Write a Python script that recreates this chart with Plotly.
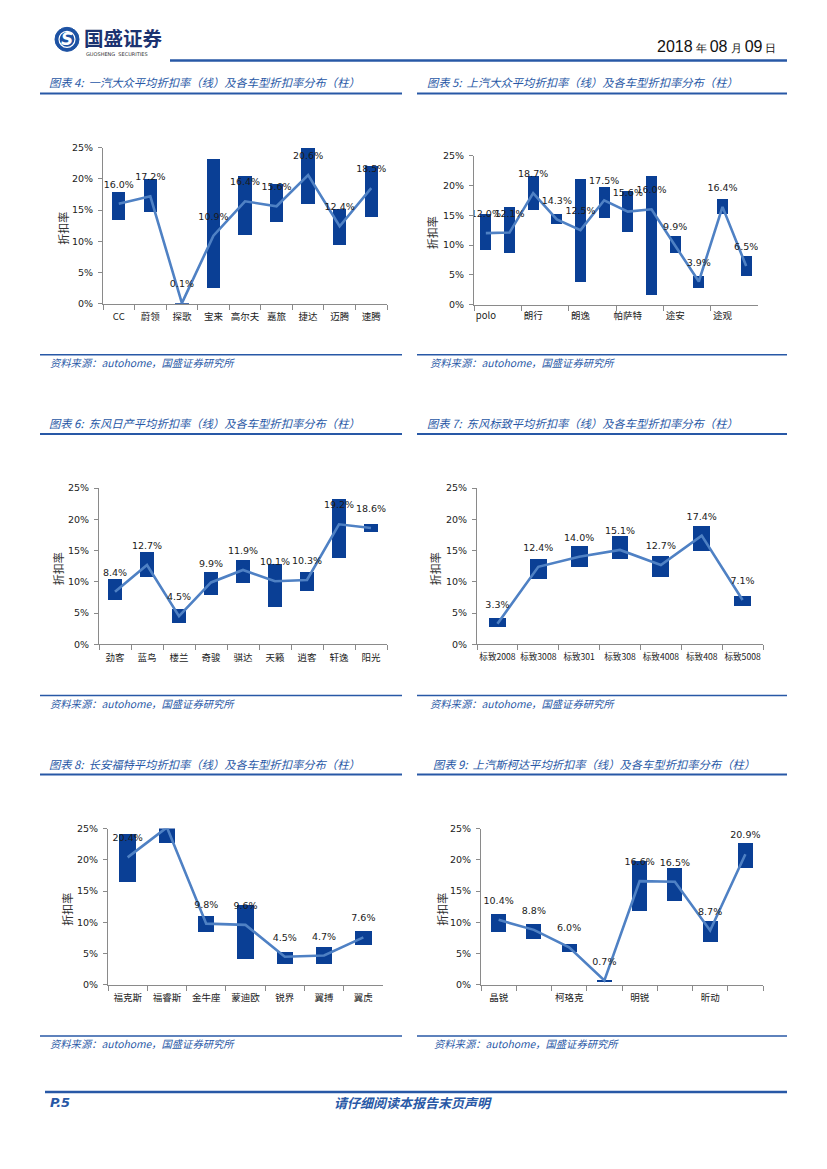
import plotly.graph_objects as go

W, H = 827, 1169

# ---------------- data ----------------
c4_cats = ["CC", "蔚领", "探歌", "宝来", "高尔夫", "嘉旅", "捷达", "迈腾", "速腾"]
c4_low = [13.4, 14.7, 0.0, 2.6, 11.0, 13.1, 15.9, 9.4, 13.9]
c4_high = [17.9, 19.9, 0.2, 23.2, 20.4, 19.1, 25.0, 15.1, 22.0]
c4_avg = [16.0, 17.2, 0.1, 10.9, 16.4, 15.6, 20.6, 12.4, 18.5]

c5_cats = ["polo", "凌渡", "朗行", "朗境", "朗逸", "辉昂", "帕萨特", "桑塔纳", "途安", "途昂", "途观", "途岳"]
c5_low = [9.2, 8.7, 15.9, 13.6, 3.8, 14.5, 12.2, 1.7, 8.7, 2.8, 15.2, 4.9]
c5_high = [15.2, 16.4, 21.5, 15.2, 21.1, 19.7, 19.0, 21.6, 11.6, 4.9, 17.7, 8.1]
c5_avg = [12.0, 12.1, 18.7, 14.3, 12.5, 17.5, 15.6, 16.0, 9.9, 3.9, 16.4, 6.5]

c6_cats = ["劲客", "蓝鸟", "楼兰", "奇骏", "骐达", "天籁", "逍客", "轩逸", "阳光"]
c6_low = [7.1, 10.7, 3.4, 7.9, 9.8, 5.9, 8.6, 13.8, 17.9]
c6_high = [10.4, 14.7, 5.6, 11.5, 13.5, 12.8, 11.5, 23.3, 19.3]
c6_avg = [8.4, 12.7, 4.5, 9.9, 11.9, 10.1, 10.3, 19.2, 18.6]

c7_cats = ["标致2008", "标致3008", "标致301", "标致308", "标致4008", "标致408", "标致5008"]
c7_low = [2.8, 10.5, 12.4, 13.6, 10.8, 14.9, 6.2]
c7_high = [4.2, 13.7, 15.7, 17.3, 14.2, 18.9, 7.8]
c7_avg = [3.3, 12.4, 14.0, 15.1, 12.7, 17.4, 7.1]

c8_cats = ["福克斯", "福睿斯", "金牛座", "蒙迪欧", "锐界", "翼搏", "翼虎"]
c8_low = [16.4, 22.7, 8.4, 4.1, 3.4, 3.3, 6.4]
c8_high = [24.1, 25.5, 11.1, 12.8, 5.3, 6.1, 8.7]
c8_avg = [20.4, 25.2, 9.8, 9.6, 4.5, 4.7, 7.6]

c9_cats = ["晶锐", "昕锐", "柯珞克", "柯迪亚克", "明锐", "速派", "昕动", "柯米克"]
c9_low = [8.4, 7.4, 5.3, 0.5, 11.9, 13.4, 6.9, 18.7]
c9_high = [11.4, 9.7, 6.6, 0.8, 19.8, 18.7, 10.3, 22.7]
c9_avg = [10.4, 8.8, 6.0, 0.7, 16.6, 16.5, 8.7, 20.9]

y_ticks = [0, 5, 10, 15, 20, 25]

titles = [
    "图表 4:  一汽大众平均折扣率（线）及各车型折扣率分布（柱）",
    "图表 5:  上汽大众平均折扣率（线）及各车型折扣率分布（柱）",
    "图表 6:  东风日产平均折扣率（线）及各车型折扣率分布（柱）",
    "图表 7:  东风标致平均折扣率（线）及各车型折扣率分布（柱）",
    "图表 8:  长安福特平均折扣率（线）及各车型折扣率分布（柱）",
    "图表 9:  上汽斯柯达平均折扣率（线）及各车型折扣率分布（柱）",
]
source_text = "资料来源：autohome，国盛证券研究所"
axis_title = "折扣率"

# ---------------- styling / layout ----------------
BAR = "#0a3f95"
LINE = "#4f81c4"
AXIS = "#8a8a8a"
BLUE = "#2858a6"
CJK = "Noto Sans CJK SC"
NUM = "DejaVu Sans"

# small vertical calibration of the page (px in picture -> px in figure)
Y_OFF, Y_SCALE = 6.7, 0.989


def yc(y):
    return (y - Y_OFF) / Y_SCALE


def xd(a, b):
    return [a / W, b / W]


def yd(top, bottom):
    return [1 - yc(bottom) / H, 1 - yc(top) / H]


def px(x):
    return x / W


def py(y):
    return 1 - yc(y) / H


charts = [
    # cats, low, high, avg, x-domain px, y-domain px, bar width, label step, tick step, ytitle x, tick font
    (c4_cats, c4_low, c4_high, c4_avg, (103, 387), (148, 304), 0.42, 1, 1, 63, 9.5),
    (c5_cats, c5_low, c5_high, c5_avg, (474, 758), (156, 305), 0.46, 2, 2, 432, 9.5),
    (c6_cats, c6_low, c6_high, c6_avg, (99, 387), (488, 644), 0.45, 1, 1, 58, 9.5),
    (c7_cats, c7_low, c7_high, c7_avg, (477, 763), (488, 644), 0.41, 1, 1, 435, 8.6),
    (c8_cats, c8_low, c8_high, c8_avg, (108, 383), (828, 984), 0.42, 1, 1, 67, 9.5),
    (c9_cats, c9_low, c9_high, c9_avg, (481, 763), (828, 984), 0.43, 2, 1, 442, 9.5),
]

fig = go.Figure()
layout_axes = {}
annotations = []

for i, (cats, low, high, avg, xdom, ydom, bw, lstep, tstep, ytx, tfs) in enumerate(charts):
    k = i + 1
    xa = "x" if k == 1 else f"x{k}"
    ya = "y" if k == 1 else f"y{k}"
    fig.add_trace(go.Bar(
        x=cats, y=[h - l for h, l in zip(high, low)], base=low,
        marker=dict(color=BAR, line=dict(width=0)), width=bw,
        xaxis=xa, yaxis=ya, hoverinfo="skip",
    ))
    fig.add_trace(go.Scatter(
        x=cats, y=avg, mode="lines+markers+text",
        text=[f"{v:.1f}%" for v in avg], textposition="top center",
        textfont=dict(family=NUM, size=9.5, color="#1a1a1a"),
        marker=dict(size=20, color="rgba(0,0,0,0)"),
        line=dict(color=LINE, width=2.6),
        cliponaxis=True, xaxis=xa, yaxis=ya, hoverinfo="skip",
    ))
    xkey = "xaxis" if k == 1 else f"xaxis{k}"
    ykey = "yaxis" if k == 1 else f"yaxis{k}"
    xcfg = dict(
        domain=xd(*xdom), anchor=ya, type="category",
        range=[-0.5, len(cats) - 0.5],
        showline=True, linecolor=AXIS, linewidth=1,
        ticks="outside", ticklen=5, tickcolor=AXIS, tickwidth=1,
        tickson="boundaries", showgrid=False, zeroline=False,
        tickangle=0, ticklabelstandoff=4,
        tickfont=dict(family=CJK, size=tfs, color="#222"),
        fixedrange=True,
    )
    if lstep == 2 and tstep == 2:
        xcfg.update(tickmode="linear", tick0=0, dtick=2, ticklabelstandoff=2)
    elif lstep == 2:
        xcfg.update(tickmode="array", tickvals=cats,
                    ticktext=[c if j % 2 == 0 else "" for j, c in enumerate(cats)])
    ycfg = dict(
        domain=yd(*ydom), anchor=xa, range=[0, 25],
        tickmode="array", tickvals=y_ticks, ticktext=[f"{t}%" for t in y_ticks],
        showline=True, linecolor=AXIS, linewidth=1,
        ticks="outside", ticklen=4, tickcolor=AXIS,
        showgrid=False, zeroline=False, ticklabelstandoff=3,
        tickfont=dict(family=NUM, size=9.5, color="#222"),
        fixedrange=True,
    )
    layout_axes[xkey] = xcfg
    layout_axes[ykey] = ycfg
    annotations.append(dict(
        x=px(ytx), y=py((ydom[0] + ydom[1]) / 2 + 3), xref="paper", yref="paper",
        text=axis_title, textangle=-90, showarrow=False,
        font=dict(family=CJK, size=11, color="#333"),
        xanchor="center", yanchor="middle",
    ))

# titles & sources
title_pos = [(47, 83), (425, 83), (47, 423), (425, 423), (47, 763), (431, 763)]
src_pos = [(48, 363), (428, 363), (48, 703), (428, 703), (48, 1043), (432, 1043)]
for t, (tx, ty) in zip(titles, title_pos):
    annotations.append(dict(
        x=px(tx), y=py(ty), xref="paper", yref="paper", text=f"<i>{t}</i>",
        showarrow=False, xanchor="left", yanchor="middle",
        font=dict(family=CJK, size=11.3, color=BLUE),
    ))
for (sx, sy) in src_pos:
    annotations.append(dict(
        x=px(sx), y=py(sy), xref="paper", yref="paper", text=f"<i>{source_text}</i>",
        showarrow=False, xanchor="left", yanchor="middle",
        font=dict(family=CJK, size=10.3, color=BLUE),
    ))

# header
annotations.append(dict(
    x=px(82), y=py(38), xref="paper", yref="paper", text="<b>国盛证券</b>",
    showarrow=False, xanchor="left", yanchor="middle",
    font=dict(family=CJK, size=19.5, color="#1b3270"),
))
annotations.append(dict(
    x=px(84), y=py(55), xref="paper", yref="paper", text="GUOSHENG  SECURITIES",
    showarrow=False, xanchor="left", yanchor="middle",
    font=dict(family=NUM, size=5, color="#333"),
))
annotations.append(dict(
    x=px(67), y=py(40), xref="paper", yref="paper", text="<b><i>S</i></b>",
    showarrow=False, xanchor="center", yanchor="middle",
    font=dict(family=NUM, size=17, color="white"),
))
NB = "\u00a0"
annotations.append(dict(
    x=px(779), y=py(47), xref="paper", yref="paper",
    text=f"2018<span style='font-size:11px'>{NB}年{NB}</span>08<span style='font-size:11px'>{NB}月{NB}</span>09<span style='font-size:11px'>{NB}日</span>",
    showarrow=False, xanchor="right", yanchor="middle",
    font=dict(family="Liberation Sans Narrow, Liberation Sans", size=16, color="#111"),
))

# footer
annotations.append(dict(
    x=px(48), y=py(1101), xref="paper", yref="paper", text="<b><i>P.5</i></b>",
    showarrow=False, xanchor="left", yanchor="middle",
    font=dict(family=NUM, size=13, color=BLUE),
))
annotations.append(dict(
    x=px(413), y=py(1101), xref="paper", yref="paper", text="<b><i>请仔细阅读本报告末页声明</i></b>",
    showarrow=False, xanchor="center", yanchor="middle",
    font=dict(family=CJK, size=13, color=BLUE),
))

shapes = []


def hline(x0, x1, y, w):
    shapes.append(dict(type="line", xref="paper", yref="paper",
                       x0=px(x0), x1=px(x1), y0=py(y), y1=py(y),
                       line=dict(color=BLUE, width=w)))


hline(170, 787, 61, 2.5)
for r in range(3):
    off = 340 * r
    hline(40, 402, 94 + off, 2)
    hline(417, 787, 94 + off, 2)
    hline(40, 402, 355 + off, 1.5)
    hline(417, 787, 355 + off, 1.5)
hline(45, 787, 1091, 2.5)

# logo circle
shapes.append(dict(type="circle", xref="paper", yref="paper",
                   x0=px(55), x1=px(79), y0=py(52), y1=py(28),
                   fillcolor="#1d52a3", line=dict(color="#1d52a3", width=1)))
shapes.append(dict(type="circle", xref="paper", yref="paper",
                   x0=px(59), x1=px(75), y0=py(48), y1=py(32),
                   fillcolor="rgba(0,0,0,0)", line=dict(color="white", width=1.2)))

fig.update_layout(
    width=W, height=H, autosize=False,
    margin=dict(l=0, r=0, t=0, b=0),
    paper_bgcolor="white", plot_bgcolor="white",
    showlegend=False, bargap=0,
    annotations=annotations, shapes=shapes,
    **layout_axes,
)

fig.write_html(
    "out.html",
    config={"displayModeBar": False, "staticPlot": True},
    post_script=(
        "document.documentElement.style.margin='0px';"
        "document.body.style.margin='0px';"
        "document.body.style.overflow='hidden';"
        "var d=document.getElementById('{plot_id}');"
        "d.style.position='fixed';d.style.top='0px';d.style.left='0px';"
    ),
)
